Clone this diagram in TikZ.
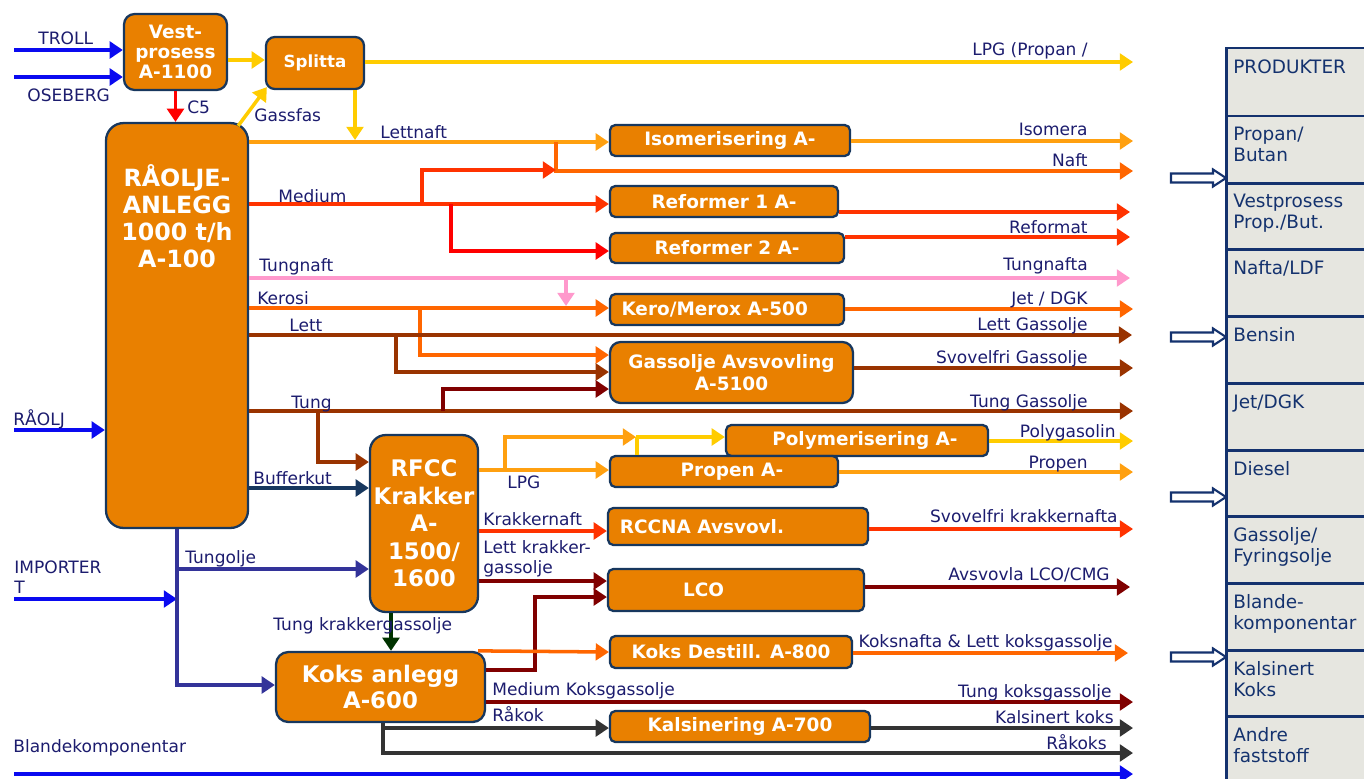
\documentclass[tikz,border=0pt]{standalone}
\usepackage{fontspec}
\setmainfont{DejaVu Sans}
\usepackage{tikz}
\usetikzlibrary{arrows.meta,calc,positioning}

\definecolor{boxfill}{RGB}{233,128,0}
\definecolor{boxline}{RGB}{23,55,94}
\definecolor{lbltext}{RGB}{28,28,110}
\definecolor{tabfill}{RGB}{230,230,224}
\definecolor{tabline}{RGB}{20,50,110}
\definecolor{cblue}{RGB}{10,10,240}
\definecolor{cyellow}{RGB}{255,204,0}
\definecolor{corange}{RGB}{255,160,16}
\definecolor{cnaft}{RGB}{255,102,0}
\definecolor{cmedium}{RGB}{255,51,0}
\definecolor{cred}{RGB}{255,0,0}
\definecolor{cpink}{RGB}{255,153,204}
\definecolor{cbrown}{RGB}{153,51,0}
\definecolor{cdarkred}{RGB}{128,0,0}
\definecolor{cnavy}{RGB}{23,55,94}
\definecolor{cindigo}{RGB}{51,51,153}
\definecolor{cgray}{RGB}{51,51,51}
\definecolor{cgreen}{RGB}{0,51,0}

\begin{document}
\begin{tikzpicture}[x=0.02cm,y=-0.02cm,
  unit/.style={draw=boxline,fill=boxfill,line width=1.3pt,rounded corners=3pt,text=white,
    font=\fontsize{10.5}{12.5}\selectfont\bfseries,align=center,inner sep=0pt},
  bigtext/.style={text=white,font=\fontsize{13.5}{15.3}\selectfont\bfseries,align=center,inner sep=0pt},
  lbl/.style={inner sep=0pt,text=lbltext,font=\fontsize{9.7}{11.2}\selectfont,align=left},
  row/.style={inner sep=0pt,anchor=north west,text=tabline,font=\fontsize{10.5}{12}\selectfont,align=left},
  flow/.style={line width=2pt,-{Triangle[length=7.5pt,width=9.5pt]}},
  pipe/.style={line width=2pt},
  hollow/.style={draw=tabline,line width=1.2pt,fill=white}]
\useasboundingbox (0,0) rectangle (1364,778);

% product table
\begin{scope}
\clip (0,0) rectangle (1364,778);
\draw[tabline,line width=1.7pt,fill=tabfill] (1226,48) rectangle (1400,800);
\foreach \y in {116,183,249,316,383,450,516,583,650,716}
  \draw[tabline,line width=1.7pt] (1226,\y) -- (1400,\y);
\end{scope}
\node[row] (produkter) at (1233,59) {PRODUKTER};
\node[row] (propan) at (1233,127) {Propan/\\Butan};
\node[row] (vestprop) at (1233,194) {Vestprosess\\Prop./But.};
\node[row] (nafta) at (1233,260) {Nafta/LDF};
\node[row] (bensin) at (1233,327) {Bensin};
\node[row] (jetdgk) at (1233,394) {Jet/DGK};
\node[row] (diesel) at (1233,461) {Diesel};
\node[row] (fyring) at (1233,527) {Gassolje/\\Fyringsolje};
\node[row] (blande) at (1233,594) {Blande-\\komponentar};
\node[row] (kalsinert) at (1233,661) {Kalsinert\\Koks};
\node[row] (andre) at (1233,727) {Andre\\faststoff};
\foreach \y in {178,337,497,657}
  \draw[hollow,shift={(0,\y)}] (1171,-4.5) -- (1213,-4.5) -- (1213,-8.5) -- (1226,0)
    -- (1213,8.5) -- (1213,4.5) -- (1171,4.5) -- cycle;

% units
\node[unit,rounded corners=6pt,minimum width=2.06cm,minimum height=1.52cm,
  font=\fontsize{10.5}{11.6}\selectfont\bfseries] (vest) at (175.5,52) {Vest-\\prosess\\A-1100};
\node[unit,rounded corners=5pt,minimum width=1.96cm,minimum height=1.04cm,
  font=\fontsize{9.5}{11}\selectfont\bfseries] (splitta) at (315,63) {Splitta};
\node[unit,rounded corners=10pt,minimum width=2.84cm,minimum height=8.1cm] (crude) at (177,325.5) {};
\node[bigtext,below=24pt of crude.north] (crudetext) {RÅOLJE-\\ANLEGG\\1000 t/h\\A-100};
\node[unit,minimum width=4.8cm,minimum height=0.62cm] (iso) at (730,140.5) {Isomerisering A-};
\node[unit,minimum width=4.56cm,minimum height=0.62cm] (ref1) at (724,201.5) {Reformer 1 A-};
\node[unit,minimum width=4.68cm,minimum height=0.6cm] (ref2) at (727,248) {Reformer 2 A-};
\node[unit,minimum width=4.68cm,minimum height=0.62cm] (kero) at (727,309.5) {Kero/Merox A-500\hspace*{14pt}};
\node[unit,rounded corners=6pt,minimum width=4.86cm,minimum height=1.22cm] (gas) at (731.5,372.5) {Gassolje Avsvovling\\A-5100};
\node[unit,minimum width=5.24cm,minimum height=0.62cm] (poly) at (857,440.5) {\hspace*{9pt}Polymerisering A-};
\node[unit,minimum width=4.56cm,minimum height=0.62cm] (propen) at (724,471.5) {\hspace*{9pt}Propen A-};
\node[unit,rounded corners=9pt,minimum width=2.16cm,minimum height=3.54cm,
  font=\fontsize{13}{15.7}\selectfont\bfseries] (rfcc) at (424,523.5) {RFCC\\Krakker\\A-\\1500/\\1600};
\node[unit,minimum width=5.2cm,minimum height=0.74cm] (rccna) at (738,526.5) {RCCNA Avsvovl.\hspace*{41pt}};
\node[unit,minimum width=5.12cm,minimum height=0.84cm] (lco) at (736,590) {LCO\hspace*{37pt}};
\node[unit,minimum width=4.84cm,minimum height=0.64cm] (dest) at (731,652) {Koks Destill. A-800};
\node[unit,rounded corners=7pt,minimum width=4.18cm,minimum height=1.4cm,
  font=\fontsize{13}{14.7}\selectfont\bfseries] (koks) at (380.5,687) {Koks anlegg\\A-600};
\node[unit,minimum width=5.2cm,minimum height=0.62cm] (kals) at (740,726.5) {Kalsinering A-700};

% free ends
\coordinate (troll) at (14,50);
\coordinate (oseberg) at (14,77);
\coordinate (raolj) at (14,430);
\coordinate (import) at (14,599);
\coordinate (blandein) at (14,774);
\coordinate (blandeout) at (1133,774);
\coordinate (lpg) at (1133,62);
\coordinate (isomera) at (1133,141);
\coordinate (naft) at (1133,171);
\coordinate (reformat1) at (1130,212);
\coordinate (reformat2) at (1130,237);
\coordinate (tungnafta) at (1130,278);
\coordinate (jet) at (1133,309);
\coordinate (lettgo) at (1132,335);
\coordinate (svgo) at (1133,368);
\coordinate (tunggo) at (1133,411);
\coordinate (polygas) at (1133,441);
\coordinate (propenout) at (1133,472);
\coordinate (svkn) at (1133,529);
\coordinate (lcoout) at (1130,587);
\coordinate (koksnafta) at (1128,653);
\coordinate (tungkoks) at (1133,702);
\coordinate (kalskoks) at (1133,728);
\coordinate (rakoks) at (1133,753);

% feeds
\draw[flow,cblue] (troll) -- (vest.west |- troll);
\draw[flow,cblue] (oseberg) -- (vest.west |- oseberg);
\draw[flow,cblue] (raolj) -- (crude.west |- raolj);
\draw[flow,cblue] (import) -- (177,599);
\draw[flow,cblue] (blandein) -- (blandeout);
\draw[flow,cyellow] (vest.east |- 0,60) -- (splitta.west |- 0,60);
\draw[flow,cred] (vest.south) -- (vest.south |- crude.north);
\draw[flow,cyellow] ($(crude.north east)+(-11,4)$) -- ($(splitta.south west)+(2,-3)$);
\draw[flow,cyellow] (splitta.east |- lpg) -- (lpg);
\draw[flow,cyellow] (splitta.south -| 355,0) -- (355,140);

% crude cuts
\draw[flow,corange] (crude.east |- 0,142) -- (iso.west |- 0,142);
\draw[flow,corange] (iso.east |- isomera) -- (isomera);
\draw[flow,cnaft] (556,142) -- (556,171) -- (naft);
\draw[flow,cmedium] (crude.east |- 0,204) -- (ref1.west |- 0,204);
\draw[flow,cmedium] (422,204) -- (422,170) -- (556,170);
\draw[flow,cred] (451,204) -- (451,251) -- (ref2.west |- 0,251);
\draw[flow,cmedium] (ref1.east |- reformat1) -- (reformat1);
\draw[flow,cmedium] (ref2.east |- reformat2) -- (reformat2);
\draw[flow,cpink] (crude.east |- tungnafta) -- (tungnafta);
\draw[flow,cpink] (566,278) -- (566,306);
\draw[flow,cnaft] (crude.east |- 0,308) -- (kero.west |- 0,308);
\draw[flow,cnaft] (420,308) -- (420,355) -- (gas.west |- 0,355);
\draw[flow,cnaft] (kero.east |- jet) -- (jet);
\draw[flow,cbrown] (crude.east |- lettgo) -- (lettgo);
\draw[flow,cbrown] (396,335) -- (396,372) -- (gas.west |- 0,372);
\draw[flow,cbrown] (gas.east |- svgo) -- (svgo);
\draw[flow,cbrown] (crude.east |- tunggo) -- (tunggo);
\draw[flow,cdarkred] (443,411) -- (443,389) -- (gas.west |- 0,389);
\draw[flow,cbrown] (318,411) -- (318,462) -- (rfcc.west |- 0,462);
\draw[flow,cnavy] (crude.east |- 0,488) -- (rfcc.west |- 0,488);
\draw[flow,cindigo] (crude.south) -- (177,685) -- (koks.west |- 0,685);
\draw[flow,cindigo] (177,569) -- (rfcc.west |- 0,569);

% cracker
\draw[flow,corange] (rfcc.east |- 0,470) -- (propen.west |- 0,470);
\draw[flow,corange] (505,470) -- (505,437) -- (636,437);
\draw[flow,cyellow] (636,437) -- (poly.west |- 0,437);
\draw[pipe,cyellow] (637,437) -- (propen.north -| 637,0);
\draw[flow,cyellow] (poly.east |- polygas) -- (polygas);
\draw[flow,corange] (propen.east |- propenout) -- (propenout);
\draw[flow,cmedium] (rfcc.east |- 0,531) -- (rccna.west |- 0,531);
\draw[flow,cmedium] (rccna.east |- svkn) -- (svkn);
\draw[flow,cdarkred] (rfcc.east |- 0,581) -- (lco.west |- 0,581);
\draw[flow,cdarkred] (lco.east |- lcoout) -- (lcoout);
\draw[flow,cgreen] (rfcc.south -| 391,0) -- (koks.north -| 391,0);

% coker
\draw[flow,cdarkred] (koks.east |- 0,670) -- (535,670) -- (535,597) -- (lco.west |- 0,597);
\draw[flow,cnaft] ($(koks.north east)+(-8,0)$) -- (dest.west |- 0,652);
\draw[flow,cnaft] (dest.east |- koksnafta) -- (koksnafta);
\draw[flow,cdarkred] (koks.east |- tungkoks) -- (tungkoks);
\draw[flow,cgray] (koks.south -| 383,0) -- (383,753) -- (rakoks);
\draw[flow,cgray] (383,728) -- (kals.west |- 0,728);
\draw[flow,cgray] (kals.east |- kalskoks) -- (kalskoks);

% labels
\node[lbl,anchor=base west] (ltroll) at (38,44) {TROLL};
\node[lbl,anchor=base west] (loseberg) at (27,101) {OSEBERG};
\node[lbl,anchor=base west] (lraolj) at (13,425) {RÅOLJ};
\node[lbl,anchor=base west] (limport) at (14,593) {IMPORTER\\T};
\node[lbl,anchor=base west] (lblande) at (13,752) {Blandekomponentar};
\node[lbl,anchor=base west] (lc5) at (187,113) {C5};
\node[lbl,anchor=base west] (lgassfas) at (254,121) {Gassfas};
\node[lbl,anchor=base west] (llettnaft) at (380,138) {Lettnaft};
\node[lbl,anchor=base west] (lmedium) at (278,202) {Medium};
\node[lbl,anchor=base west] (ltungnaft) at (259,271) {Tungnaft};
\node[lbl,anchor=base west] (lkerosi) at (257,304) {Kerosi};
\node[lbl,anchor=base west] (llett) at (289,331) {Lett};
\node[lbl,anchor=base west] (ltung) at (291,408) {Tung};
\node[lbl,anchor=base west] (lbuffer) at (253,484) {Bufferkut};
\node[lbl,anchor=base west] (ltungolje) at (185,563) {Tungolje};
\node[lbl,anchor=base west] (llpg) at (507,488) {LPG};
\node[lbl,anchor=base west] (lkrakker) at (483,525) {Krakkernaft};
\node[lbl,anchor=base west] (llettkr) at (483,573) {Lett krakker-\\gassolje};
\node[lbl,anchor=base west] (ltungkr) at (273,630) {Tung krakkergassolje};
\node[lbl,anchor=base west] (lmedkoks) at (492,695) {Medium Koksgassolje};
\node[lbl,anchor=base west] (lrakok) at (492,721) {Råkok};
\node[lbl,anchor=base east] (llpgout) at (1088,55) {LPG (Propan /};
\node[lbl,anchor=base east] (lisomera) at (1088,135) {Isomera};
\node[lbl,anchor=base east] (lnaft) at (1088,166) {Naft};
\node[lbl,anchor=base east] (lreformat) at (1088,233) {Reformat};
\node[lbl,anchor=base east] (ltungnafta) at (1088,270) {Tungnafta};
\node[lbl,anchor=base east] (ljet) at (1088,304) {Jet / DGK};
\node[lbl,anchor=base east] (llettgo) at (1088,330) {Lett Gassolje};
\node[lbl,anchor=base east] (lsvgo) at (1088,363) {Svovelfri Gassolje};
\node[lbl,anchor=base east] (ltunggo) at (1088,407) {Tung Gassolje};
\node[lbl,anchor=base east] (lpolygas) at (1116,437) {Polygasolin};
\node[lbl,anchor=base east] (lpropen) at (1088,468) {Propen};
\node[lbl,anchor=base east] (lsvkn) at (1118,522) {Svovelfri krakkernafta};
\node[lbl,anchor=base east] (llco) at (1110,580) {Avsvovla LCO/CMG};
\node[lbl,anchor=base east] (lkoksnafta) at (1113,647) {Koksnafta \& Lett koksgassolje};
\node[lbl,anchor=base east] (ltungkoks) at (1112,697) {Tung koksgassolje};
\node[lbl,anchor=base east] (lkalskoks) at (1114,723) {Kalsinert koks};
\node[lbl,anchor=base east] (lrakoks) at (1107,749) {Råkoks};
\end{tikzpicture}
\end{document}
